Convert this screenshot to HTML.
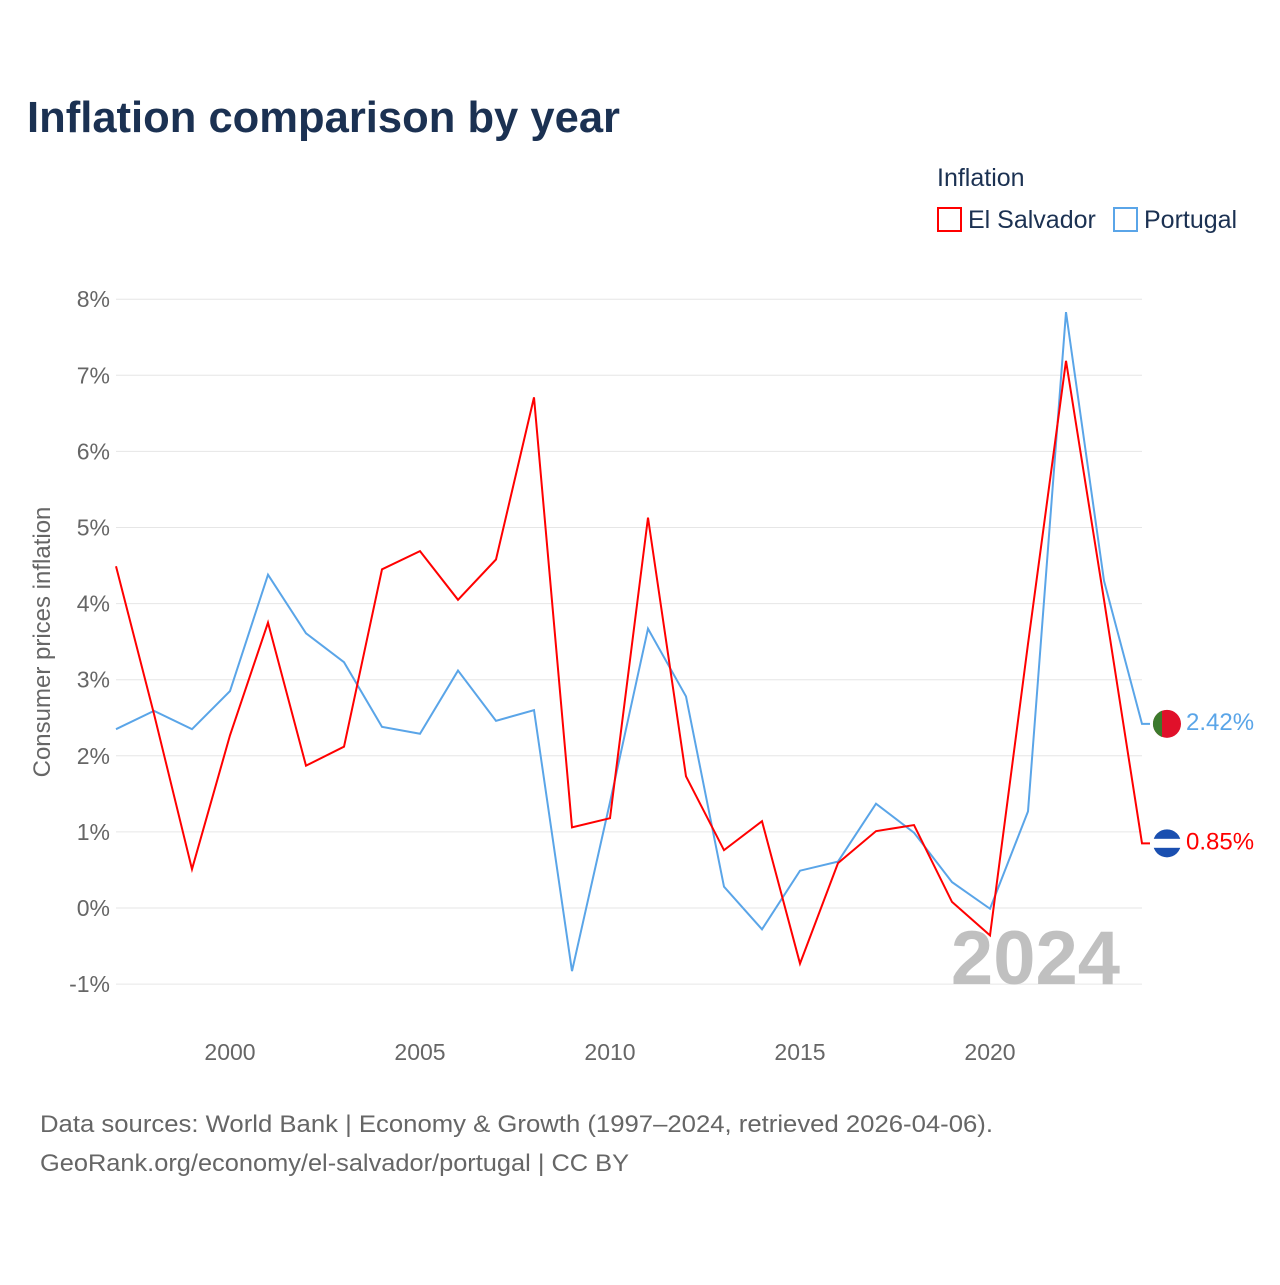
<!DOCTYPE html>
<html><head><meta charset="utf-8">
<style>
body{margin:0;background:#fff;font-family:"Liberation Sans",sans-serif;}
svg text{font-family:"Liberation Sans",sans-serif;}
</style></head>
<body>
<svg width="1280" height="1280" viewBox="0 0 1280 1280">
<text x="27" y="132" font-size="44" font-weight="bold" fill="#1b3152" textLength="593" lengthAdjust="spacingAndGlyphs">Inflation comparison by year</text>
<text x="937" y="186" font-size="25" fill="#1b3152">Inflation</text>
<g>
<rect x="938" y="208" width="23" height="23" fill="none" stroke="#ff0000" stroke-width="2"/>
<text x="968" y="228" font-size="25" fill="#1b3152">El Salvador</text></g>
<g>
<rect x="1114" y="208" width="23" height="23" fill="none" stroke="#5aa5e8" stroke-width="2"/>
<text x="1144" y="228" font-size="25" fill="#1b3152">Portugal</text></g>
<g id="grid"></g><g id="xt"></g>
<text x="1120" y="984" text-anchor="end" font-size="76" font-weight="bold" fill="#c0c0c0">2024</text>
<text transform="translate(50,642) rotate(-90)" text-anchor="middle" font-size="24" fill="#666">Consumer prices inflation</text>
<g id="series"></g>
<text x="40" y="1132" font-size="24" fill="#666" textLength="953" lengthAdjust="spacingAndGlyphs">Data sources: World Bank | Economy &amp; Growth (1997–2024, retrieved 2026-04-06).</text>
<text x="40" y="1171" font-size="24" fill="#666" textLength="589" lengthAdjust="spacingAndGlyphs">GeoRank.org/economy/el-salvador/portugal | CC BY</text>
</svg>
<script>
const years=[1997,1998,1999,2000,2001,2002,2003,2004,2005,2006,2007,2008,2009,2010,2011,2012,2013,2014,2015,2016,2017,2018,2019,2020,2021,2022,2023,2024];
const elSalvador=[4.49,2.55,0.51,2.27,3.75,1.87,2.12,4.45,4.69,4.05,4.58,6.71,1.06,1.18,5.13,1.73,0.76,1.14,-0.73,0.59,1.01,1.09,0.08,-0.36,3.47,7.19,4.05,0.85];
const portugal=[2.35,2.59,2.35,2.85,4.38,3.61,3.23,2.38,2.29,3.12,2.46,2.60,-0.83,1.39,3.67,2.78,0.28,-0.28,0.49,0.61,1.37,0.99,0.34,-0.01,1.27,7.83,4.30,2.42];
const yTicks=[-1,0,1,2,3,4,5,6,7,8];
const xTicks=[2000,2005,2010,2015,2020];
const NS="http://www.w3.org/2000/svg";
const x=v=>116+(v-1997)*38;
const y=v=>908-v*76.1;
function mk(tag,attrs,parent){const e=document.createElementNS(NS,tag);for(const k in attrs)e.setAttribute(k,attrs[k]);parent.appendChild(e);return e;}
const grid=document.getElementById('grid');
yTicks.forEach(t=>{
 const l=mk('line',{x1:116,x2:1142,y1:y(t),y2:y(t),stroke:'#e6e6e6','stroke-width':1},grid);
 
 
 const tx=mk('text',{x:110,y:y(t)+8,'text-anchor':'end','font-size':23,fill:'#666'},grid);
 tx.textContent=t+'%';
 
 
});
const xt=document.getElementById('xt');
xTicks.forEach(t=>{
 const tx=mk('text',{x:x(t),y:1060,'text-anchor':'middle','font-size':23,fill:'#666'},xt);
 tx.textContent=t;
 
 
});
const sg=document.getElementById('series');
function series(vals,color,name,label,flagA,flagB,vertical){
 let d=vals.map((v,i)=>(i?'L':'M')+x(years[i])+','+y(v)).join(' ');
 const last=vals[vals.length-1];
 d+=' L1150,'+y(last);
 const p=mk('path',{d:d,fill:'none',stroke:color,'stroke-width':2,'stroke-linejoin':'miter'},sg);
 
 
 const cy=y(last);
 const c=mk('circle',{cx:1167,cy:cy,r:14,fill:flagB},sg);
 
 
 if(vertical){mk('path',{d:`M1162,${cy-13.1} A14,14 0 0 0 1162,${cy+13.1} Z`,fill:flagA},sg);}
 else{mk('rect',{x:1153,y:cy-4.5,width:28,height:9,fill:flagA},sg);}
 const t=mk('text',{x:1186,y:cy+6,'font-size':24,fill:color},sg);
 t.textContent=label;
 
 
}
series(portugal,'#5aa5e8','portugal',portugal[portugal.length-1].toFixed(2)+'%','#3c7a2c','#e0102a',true);
series(elSalvador,'#ff0000','el-salvador',elSalvador[elSalvador.length-1].toFixed(2)+'%','#ffffff','#1a4fb0',false);
</script>
</body></html>
